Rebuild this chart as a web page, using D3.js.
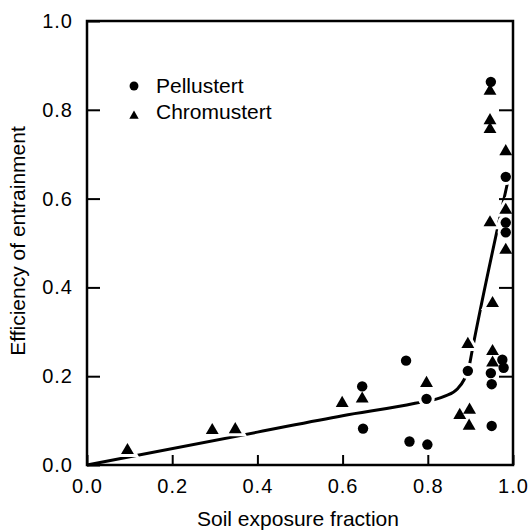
<!DOCTYPE html>
<html>
<head>
<meta charset="utf-8">
<script src="https://cdn.jsdelivr.net/npm/d3@7"></script>
<style>
  html, body { margin: 0; padding: 0; background: #fff; }
  svg { display: block; font-family: "Liberation Sans", Arial, Helvetica, sans-serif; }
</style>
</head>
<body>
<svg id="chart" width="531" height="531"></svg>
<script>
// Pellustert (circles)
const pelluX = [0.948, 0.983, 0.983, 0.983, 0.975, 0.978, 0.948, 0.950, 0.950, 0.894, 0.797, 0.749, 0.757, 0.799, 0.646, 0.648];
const pelluY = [0.863, 0.649, 0.546, 0.524, 0.237, 0.219, 0.207, 0.182, 0.088, 0.212, 0.149, 0.235, 0.053, 0.046, 0.177, 0.082];

// Chromustert (triangles)
const chromX = [0.095, 0.294, 0.348, 0.599, 0.646, 0.797, 0.894, 0.875, 0.898, 0.897, 0.946, 0.946, 0.946, 0.946, 0.952, 0.952, 0.952, 0.983, 0.983, 0.983];
const chromY = [0.033, 0.078, 0.080, 0.139, 0.149, 0.184, 0.272, 0.112, 0.124, 0.088, 0.842, 0.776, 0.756, 0.546, 0.364, 0.256, 0.230, 0.706, 0.574, 0.484];

// fitted curve
const fitX = [0, 0.4, 0.6, 0.77, 0.84, 0.87, 0.885, 0.897, 0.905, 0.99];
const fitY = [0, 0.074, 0.111, 0.139, 0.155, 0.172, 0.192, 0.222, 0.262, 0.648];

const xTicks = [0, 0.2, 0.4, 0.6, 0.8, 1.0];
const yTicks = [0, 0.2, 0.4, 0.6, 0.8, 1.0];
const seriesNames = ['Pellustert', 'Chromustert'];

const svg = d3.select('#chart');
const x = d3.scaleLinear().domain([0, 1]).range([87, 513]);
const y = d3.scaleLinear().domain([0, 1]).range([465, 21]);
const fmt = d3.format('.1f');

const pellu = pelluX.map((v, i) => ({ x: v, y: pelluY[i], s: 'circle' }));
const chrom = chromX.map((v, i) => ({ x: v, y: chromY[i], s: 'triangle' }));
const points = pellu.concat(chrom);
const fit = fitX.map((v, i) => [v, fitY[i]]);

const symCircle = d3.symbol().type(d3.symbolCircle).size(85);
const symTri = d3.symbol().type(d3.symbolTriangle).size(72);
const shape = d => d.s === 'circle' ? symCircle() : symTri();

// curve
svg.append('path')
  .datum(fit)
  .attr('fill', 'none')
  .attr('stroke', '#000')
  .attr('stroke-width', 3)
  .attr('d', d3.line().x(d => x(d[0])).y(d => y(d[1])).curve(d3.curveMonotoneX));

// white halos knock the line out around the markers
svg.append('g')
  .selectAll('path')
  .data(points)
  .join('path')
  .attr('transform', d => `translate(${x(d.x)},${y(d.y)})`)
  .attr('d', shape)
  .attr('fill', '#fff')
  .attr('stroke', '#fff')
  .attr('stroke-width', 6);

// axes
const gx = svg.append('g')
  .attr('transform', `translate(0,${y(0)})`)
  .call(d3.axisBottom(x).tickValues(xTicks).tickFormat(fmt).tickSizeInner(-10).tickSizeOuter(0).tickPadding(14));
const gy = svg.append('g')
  .attr('transform', `translate(${x(0)},0)`)
  .call(d3.axisLeft(y).tickValues(yTicks).tickFormat(fmt).tickSizeInner(-13).tickSizeOuter(0).tickPadding(14));
const gr = svg.append('g')
  .attr('transform', `translate(${x(1)},0)`)
  .call(d3.axisRight(y).tickValues([0.2, 0.4, 0.6, 0.8]).tickFormat('').tickSizeInner(-14).tickSizeOuter(0));

[gx, gy, gr].forEach(g => {
  g.select('.domain').remove();
  g.selectAll('line').attr('stroke', '#000').attr('stroke-width', 2);
  g.selectAll('text').attr('fill', '#000').style('font-size', '20px')
    .style('letter-spacing', '1px')
    .style('font-family', '"Liberation Sans", Arial, Helvetica, sans-serif');
});

svg.append('rect')
  .attr('x', x(0)).attr('y', y(1))
  .attr('width', x(1) - x(0)).attr('height', y(0) - y(1))
  .attr('fill', 'none').attr('stroke', '#000').attr('stroke-width', 2.5);

// markers
svg.append('g')
  .selectAll('path')
  .data(points)
  .join('path')
  .attr('transform', d => `translate(${x(d.x)},${y(d.y)})`)
  .attr('d', shape)
  .attr('fill', '#000');

// legend
const leg = svg.append('g');
leg.append('path').attr('transform', 'translate(134,86)')
  .attr('d', d3.symbol().type(d3.symbolCircle).size(62)()).attr('fill', '#000');
leg.append('path').attr('transform', 'translate(134,116)')
  .attr('d', d3.symbol().type(d3.symbolTriangle).size(38)()).attr('fill', '#000');
leg.selectAll('text')
  .data(seriesNames)
  .join('text')
  .attr('x', 156)
  .attr('y', (d, i) => i === 0 ? 93 : 119)
  .style('font-size', '21px')
  .text(d => d);

// axis titles
svg.append('text')
  .attr('x', 298).attr('y', 526)
  .attr('text-anchor', 'middle')
  .style('font-size', '21px')
  .text('Soil exposure fraction');
svg.append('text')
  .attr('transform', 'translate(25,241) rotate(-90)')
  .attr('text-anchor', 'middle')
  .style('font-size', '21px')
  .text('Efficiency of entrainment');
</script>
</body>
</html>
